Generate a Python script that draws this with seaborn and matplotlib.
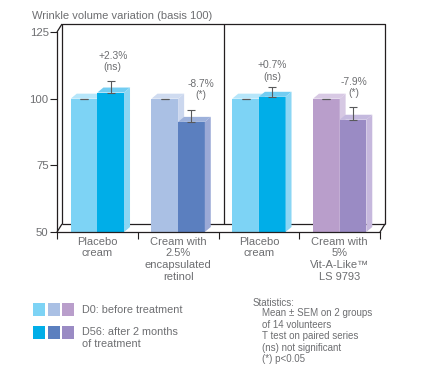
import pandas as pd
import matplotlib.pyplot as plt
import seaborn as sns
from matplotlib.patches import Polygon, Rectangle

# data
group_keys = ["g1", "g2", "g3", "g4"]
group_labels = [
    "Placebo\ncream",
    "Cream with\n2.5%\nencapsulated\nretinol",
    "Placebo\ncream",
    "Cream with\n5%\nVit-A-Like\u2122\nLS 9793",
]
d0_values = [100, 100, 100, 100]
d56_values = [102.3, 91.3, 100.7, 92.1]
d56_sem = [4.4, 4.4, 3.6, 4.8]
change_labels = ["+2.3%\n(ns)", "-8.7%\n(*)", "+0.7%\n(ns)", "-7.9%\n(*)"]
legend_labels = ["D0: before treatment", "D56: after 2 months\nof treatment"]
stats_text = ("Mean \u00b1 SEM on 2 groups\nof 14 volunteers\nT test on paired series\n"
              "(ns) not significant\n(*) p<0.05")

# colours
front_d0 = ["#7dd3f5", "#aac0e4", "#7dd3f5", "#b99ecb"]
front_d56 = ["#00aee8", "#5b7fbf", "#00aee8", "#9a8bc4"]
top_d0 = ["#b6e6fa", "#cfdbf0", "#b6e6fa", "#d8c9e4"]
top_d56 = ["#72cdf2", "#9db1db", "#72cdf2", "#c4b9de"]
side_d0 = ["#a9e0f7", "#cbd7ee", "#a9e0f7", "#d6c8e3"]
side_d56 = ["#8bd6f4", "#9ba9d6", "#8bd6f4", "#c6b8dd"]
label_offsets = [(1.5, 6), (6.5, 7.5), (0, 4), (1, 6.5)]

TEXT = "#6d6e71"
LINE = "#231f20"

df = pd.DataFrame({
    "group": group_keys * 2,
    "time": ["D0"] * 4 + ["D56"] * 4,
    "value": d0_values + d56_values,
})

sns.set_style("white")
plt.rcParams["font.family"] = ["Liberation Sans", "DejaVu Sans"]

fig = plt.figure(figsize=(4.29, 3.68), dpi=100)
ax = fig.add_axes([57 / 429, 136 / 368, 323 / 429, 200 / 368])

sns.barplot(data=df, x="group", y="value", hue="time", order=group_keys,
            hue_order=["D0", "D56"], width=0.66, errorbar=None, legend=False,
            saturation=1, linewidth=0, ax=ax)

ax.set_xlim(-0.5, 3.5)
ax.set_ylim(50, 125)

# pixel sizes -> data units
px_x = 4 / 323
px_y = 75 / 200
bdx, bdy = 5 * px_x, 8 * px_y      # depth of the box
dx, dy = 6 * px_x, 5 * px_y        # depth of the bars

# back wall of the box
wall = dict(color=LINE, lw=0.9, zorder=0.5, clip_on=False, solid_capstyle="butt")
x0, x1 = -0.5 + bdx, 3.5 + bdx
y0, y1 = 50 + bdy, 125 + bdy
ax.plot([x0, x0, x1, x1], [y0, y1, y1, y0], **wall)
ax.plot([x0, x1], [y0, y0], **wall)
ax.plot([-0.5, x0], [50, y0], **wall)
ax.plot([-0.5, x0], [125, y1], **wall)
ax.plot([3.5, x1], [50, y0], **wall)
ax.plot([1.5 + bdx] * 2, [y0, y1], **wall)

# 3d faces
for level, (fronts, tops, sides) in enumerate([(front_d0, top_d0, side_d0),
                                                 (front_d56, top_d56, side_d56)]):
    z = 1 + level
    for i, bar in enumerate(ax.containers[level]):
        bar.set_facecolor(fronts[i])
        bar.set_zorder(z)
        xl = bar.get_x()
        xr = xl + bar.get_width()
        h = bar.get_height()
        ax.add_patch(Polygon([(xl, h), (xl + dx, h + dy), (xr + dx, h + dy), (xr, h)],
                             closed=True, fc=tops[i], lw=0, zorder=z))
        ax.add_patch(Polygon([(xr, 50), (xr, h), (xr + dx, h + dy), (xr + dx, 50 + dy)],
                             closed=True, fc=sides[i], lw=0, zorder=z))

# error bars
c0 = [b.get_x() + b.get_width() / 2 for b in ax.containers[0]]
c1 = [b.get_x() + b.get_width() / 2 for b in ax.containers[1]]
ax.errorbar(c0, d0_values, yerr=[[0] * 4, [0] * 4], fmt="none", ecolor="#58595b",
            elinewidth=0.8, capsize=3, capthick=0.8, zorder=3)
ax.errorbar(c1, d56_values, yerr=[[0] * 4, d56_sem], fmt="none", ecolor="#58595b",
            elinewidth=0.8, capsize=3, capthick=0.8, zorder=3)

for i in range(4):
    ax.annotate(change_labels[i], xy=(c1[i], d56_values[i] + d56_sem[i]),
                xytext=label_offsets[i], textcoords="offset points",
                ha="center", va="bottom", fontsize=7.4, color=TEXT,
                linespacing=1.15, annotation_clip=False)

# axes styling
sns.despine(ax=ax, top=True, right=True)
for s in ["left", "bottom"]:
    ax.spines[s].set_color(LINE)
    ax.spines[s].set_linewidth(0.9)
ax.set_yticks([50, 75, 100, 125])
ax.tick_params(axis="y", direction="out", length=5, width=0.8, color=LINE,
               labelcolor=TEXT, labelsize=8.2, pad=1, left=True)
ax.set_xticks([-0.5, 0.5, 1.5, 2.5, 3.5], labels=[""] * 5)
ax.set_xticks(range(4), labels=group_labels, minor=True)
ax.tick_params(axis="x", which="major", direction="out", length=5, width=0.8,
               color=LINE, bottom=True)
ax.tick_params(axis="x", which="minor", length=0, pad=3.5, labelsize=8,
               labelcolor=TEXT)
for t in ax.get_xticklabels(minor=True):
    t.set_linespacing(1.2)
ax.set_xlabel("")
ax.set_ylabel("")

fig.text(32 / 429, 1 - 16 / 368, "Wrinkle volume variation (basis 100)",
         fontsize=8, color=TEXT, va="center", ha="left")

# legend swatches
for row, colors in enumerate([front_d0, front_d56]):
    yb = 1 - (316 + row * 22.5) / 368
    for k, col in enumerate([colors[0], colors[1], colors[3]]):
        fig.add_artist(Rectangle(((33 + k * 14.5) / 429, yb), 12 / 429, 13 / 368,
                                 transform=fig.transFigure, fc=col, lw=0))
fig.text(82 / 429, 1 - 310 / 368, legend_labels[0], fontsize=7.8, color=TEXT,
         va="center", ha="left")
fig.text(82 / 429, 1 - 327 / 368, legend_labels[1], fontsize=7.8, color=TEXT,
         va="top", ha="left", linespacing=1.25)

fig.text(253 / 429, 1 - 298 / 368, "Statistics:", fontsize=7, color=TEXT,
         va="top", ha="left")
fig.text(262 / 429, 1 - 308.5 / 368, stats_text, fontsize=7, color=TEXT,
         va="top", ha="left", linespacing=1.17)

fig.savefig("out.png", dpi=100)
